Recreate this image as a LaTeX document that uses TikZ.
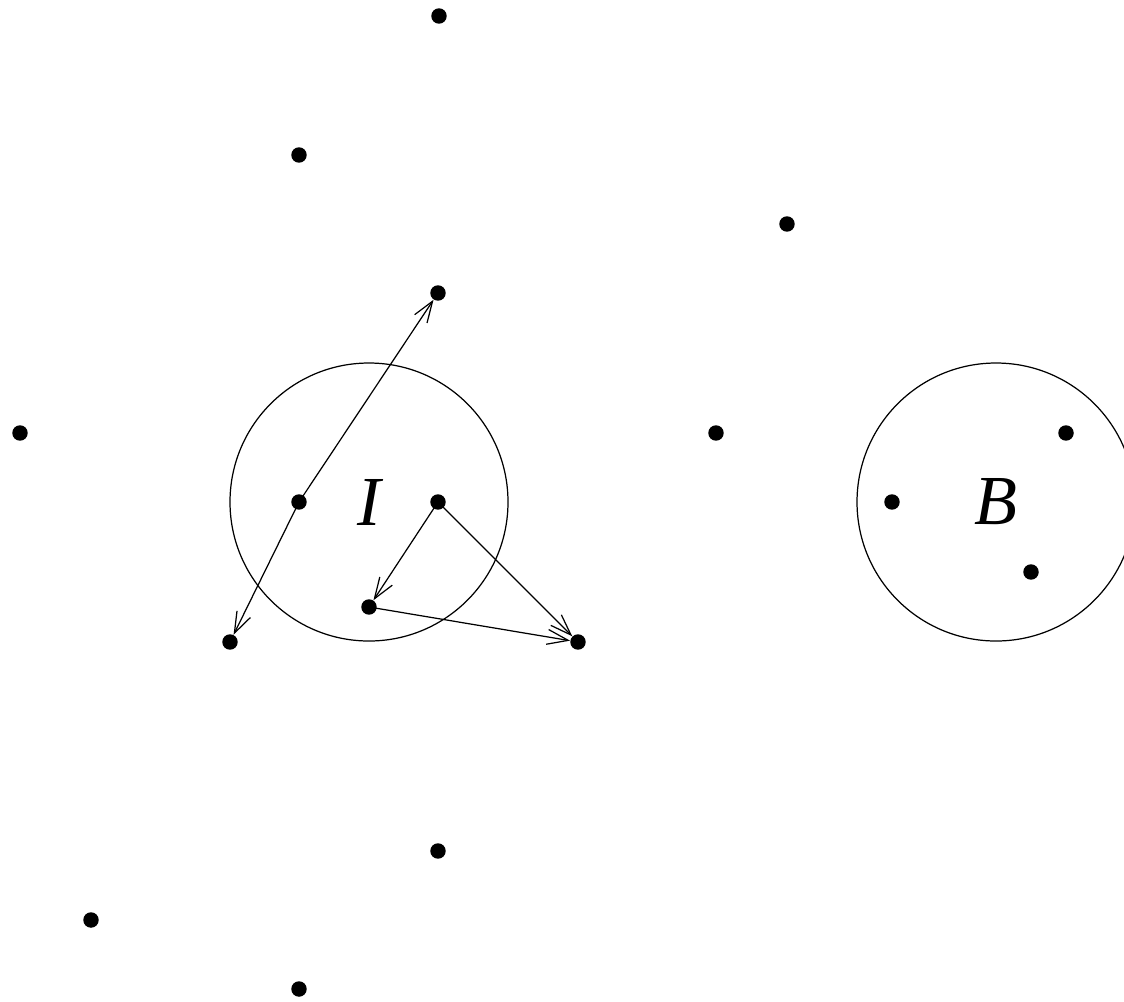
\documentclass[tikz,border=0pt]{standalone}
\usepackage{fontspec}
\setmainfont{Liberation Serif}
\usetikzlibrary{arrows.meta}
\tikzset{
  dot/.style={circle, fill=black, inner sep=0pt, minimum size=8.8pt},
  ring/.style={draw=black, line width=0.7pt},
  conn/.style={draw=black, line width=0.7pt, -{Straight Barb[length=12pt,width=8.5pt,line width=0.7pt]}},
  lbl/.style={font=\fontsize{40}{40}\selectfont\itshape, inner sep=0pt}
}
\begin{document}
\begin{tikzpicture}[x=0.02cm, y=-0.02cm]
\useasboundingbox (0,0) rectangle (1124,1001);
\begin{scope}
\clip (0,0) rectangle (1124,1001);
\draw[ring] (369,502) circle (139);
\draw[ring] (996,502) circle (139);
\end{scope}
\node[lbl] (lI) at (369,502) {I};
\node[lbl] (lB) at (996,502) {B};
\node[dot] (p1) at (439,16) {};
\node[dot] (p2) at (299,155) {};
\node[dot] (p3) at (787,224) {};
\node[dot] (p4) at (438,293) {};
\node[dot] (p5) at (20,433) {};
\node[dot] (p6) at (716,433) {};
\node[dot] (a) at (299,502) {};
\node[dot] (b) at (438,502) {};
\node[dot] (c) at (369,607) {};
\node[dot] (d) at (230,642) {};
\node[dot] (e) at (578,642) {};
\node[dot] (p7) at (438,851) {};
\node[dot] (p8) at (91,920) {};
\node[dot] (p9) at (299,989) {};
\node[dot] (q1) at (1066,433) {};
\node[dot] (q2) at (892,502) {};
\node[dot] (q3) at (1031,572) {};
\draw[conn] (a.center) -- (p4);
\draw[conn] (a.center) -- (d);
\draw[conn] (b.center) -- (c);
\draw[conn] (b.center) -- (e);
\draw[conn] (c.center) -- (e);
\end{tikzpicture}
\end{document}
